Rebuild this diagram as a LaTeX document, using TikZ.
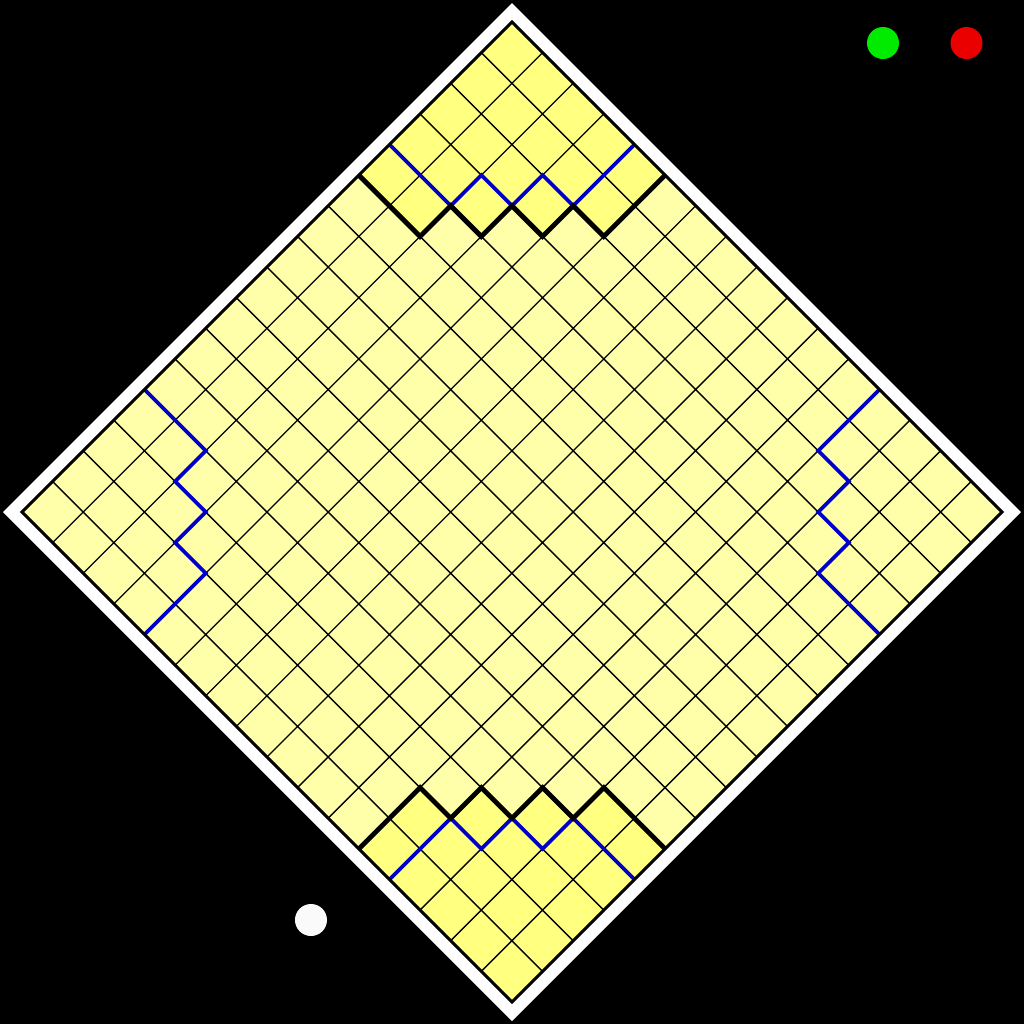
\documentclass[tikz,border=0pt]{standalone}
\usepackage{xcolor}
\usepackage{tikz}

\definecolor{plain}{HTML}{FFFFAA}
\definecolor{goal}{HTML}{FFFF80}
\definecolor{lanecol}{HTML}{0000C8}

\begin{document}
\begin{tikzpicture}[
        lightcell/.style={fill=plain},
        goalcell/.style={fill=goal},
        gridline/.style={draw=black, line width=0.4pt},
        wall/.style={draw=black, line width=1.4pt},
        lane/.style={draw=lanecol, line width=1.05pt},
        rim/.style={draw=black, line width=0.85pt},
        dot/.style={circle, inner sep=0pt, minimum size=0.32cm}
    ]
        % background and frame
        \fill[black] (-5.12,-5.12) rectangle (5.12,5.12);
        \useasboundingbox (-5.12,-5.12) rectangle (5.12,5.12);
        \fill[white] (0,5.09) -- (5.09,0) -- (0,-5.09) -- (-5.09,0) -- cycle;

        % board, 16 x 16 cells turned by 45 degrees
        \begin{scope}[shift={(-4.9,0)}, rotate=45, scale=0.43310]
            \fill[lightcell] (0,0) rectangle (16,-16);
            \fill[goalcell] (11,0) -- (11,-2) -- (12,-2) -- (12,-3) -- (13,-3) -- (13,-4)
                -- (14,-4) -- (14,-5) -- (16,-5) -- (16,0) -- cycle;
            \fill[goalcell] (0,-11) -- (2,-11) -- (2,-12) -- (3,-12) -- (3,-13) -- (4,-13)
                -- (4,-14) -- (5,-14) -- (5,-16) -- (0,-16) -- cycle;
            \draw[gridline] (0,0) grid (16,-16);

            % lanes
            \draw[lane] (12,0) -- (12,-2) -- (13,-2) -- (13,-3) -- (14,-3) -- (14,-4) -- (16,-4);
            \draw[lane] (0,-12) -- (2,-12) -- (2,-13) -- (3,-13) -- (3,-14) -- (4,-14) -- (4,-16);
            \draw[lane] (4,0) -- (4,-2) -- (3,-2) -- (3,-3) -- (2,-3) -- (2,-4) -- (0,-4);
            \draw[lane] (16,-12) -- (14,-12) -- (14,-13) -- (13,-13) -- (13,-14) -- (12,-14) -- (12,-16);

            % walls
            \draw[wall] (11,0) -- (11,-2) -- (12,-2) -- (12,-3) -- (13,-3) -- (13,-4)
                -- (14,-4) -- (14,-5) -- (16,-5);
            \draw[wall] (0,-11) -- (2,-11) -- (2,-12) -- (3,-12) -- (3,-13) -- (4,-13)
                -- (4,-14) -- (5,-14) -- (5,-16);

            \draw[rim] (0,0) rectangle (16,-16);
        \end{scope}

        % markers
        \node[dot, fill={rgb,255:red,0;green,235;blue,0}] (go) at (3.71,4.69) {};
        \node[dot, fill={rgb,255:red,235;green,0;blue,0}] (stop) at (4.545,4.69) {};
        \node[dot, fill={rgb,255:red,250;green,250;blue,250}] (turn) at (-2.01,-4.08) {};
    \end{tikzpicture}
\end{document}
